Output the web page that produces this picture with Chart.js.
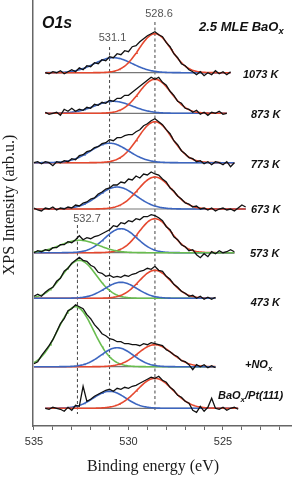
<!DOCTYPE html>
<html>
<head>
<meta charset="utf-8">
<script src="https://cdn.jsdelivr.net/npm/chart.js@4.4.0/dist/chart.umd.min.js"></script>
<style>
  html, body { margin: 0; padding: 0; background: #fff; overflow: hidden; }
  canvas { display: block; }
</style>
</head>
<body>
<canvas id="xps" width="292" height="477"></canvas>
<script>
// ---- data ----
const STEP = 0.2; // eV between measured points, towards lower binding energy

const scanNames = ['1073 K', '873 K', '773 K', '673 K', '573 K', '473 K', '+NO_x', 'BaO_x/Pt(111)'];
// baseline of every stacked spectrum (arb.u.)
const offsets = [353.3, 312.7, 263.3, 217, 173.3, 127.7, 59.3, 17.7];
// first binding energy of every scan (eV)
const scanStart = [534.4, 534.4, 535.0, 535.0, 535.0, 535.0, 535.0, 534.4];

const scan1073 = [0,-1,1,0,2,-1,1,3,1,5,3,7,6,10,9,13,12,16,15,19,18,22,21,26,27,31,34,37,39,41,38,36,30,26,19,15,9,7,3,1,-2,1,-3,0,-2,2,-1,1,-2,1];
const scan873 = [1,-1,0,1,-2,4,2,5,2,4,3,6,5,9,8,11,10,13,12,15,15,18,18,21,24,27,30,33,36,34,36,31,28,22,18,12,10,5,4,1,3,-1,1,-2,1,0,2,-1,0];
const scan773 = [0,1,-1,1,0,-3,1,0,2,1,4,3,7,8,11,12,15,16,19,20,23,22,25,25,27,28,28,31,33,37,39,42,44,41,38,33,29,22,18,12,9,5,4,1,2,-1,1,-2,1,0,-2,1,-4,0];
const scan673 = [1,-1,-2,1,0,2,-1,1,0,2,1,4,3,6,7,10,11,15,17,20,21,24,24,27,26,30,29,33,31,35,34,37,35,34,30,27,21,18,13,10,6,5,2,3,0,1,-1,1,-2,0,1,-1,0,-2,1,4,2];
const scan573 = [0,2,1,3,2,5,5,8,8,11,10,13,17,13,15,14,16,17,19,21,23,27,26,30,29,32,31,34,33,36,36,38,37,35,32,26,23,16,13,8,6,2,3,-2,-5,-1,-4,1,-1,2,0,1,3,1];
const scan473 = [2,4,2,6,9,11,17,20,27,30,35,38,41,38,37,33,31,26,25,22,23,21,22,21,23,22,24,25,27,28,30,29,32,28,27,22,19,14,11,7,5,2,3,0,2,-1,1,-1,1];
const scanNOx = [3,5,11,16,21,27,35,43,48,56,58,62,60,58,52,48,42,38,33,31,28,27,25,25,23,23,22,22,21,23,22,24,23,22,21,17,15,12,10,6,5,2,-3,2,0,2,-1,1,-1];
const scanPt = [0,-1,1,0,-1,-3,1,-2,3,2,22,7,9,12,14,16,18,19,17,20,19,21,20,22,23,25,27,29,31,30,32,28,26,21,18,13,11,7,5,-2,-4,2,-3,1,10,0,-1,1,-2,0,1,-1];
const scans = [scan1073, scan873, scan773, scan673, scan573, scan473, scanNOx, scanPt];

// fitted components: [centre eV, height, sigma eV]
const fit528 = [[528.6,39,0.85],[528.6,34,0.85],[528.6,41,0.9],[528.6,32,0.9],[528.6,34,0.85],[528.6,28,0.85],[528.6,22,0.9],[528.6,30,0.95]];
const fit531 = [[530.8,15,1.0],[530.8,12,1.0],[531.0,19.5,1.0],[530.6,22,1.0],[530.4,24,0.85],[530.4,16,0.85],[530.6,19,0.85],[531.0,17,0.85]];
const fit533 = [null,null,null,null,[532.6,12.5,1.0],[532.6,38,0.9],[532.8,60,0.95],null];

// reference peak positions
const refEnergy = [528.6, 531.0, 532.7];
const refLabel = ['528.6', '531.1', '532.7'];

// ---- styling ----
const compColor = { r: '#e5482f', b: '#3d66c0', g: '#69bd4f' };
const compFit = { r: fit528, b: fit531, g: fit533 };
// bottom -> top drawing order of the components in each spectrum
const layers = [['b','r'],['b','r'],['r','b'],['b','r'],['r','b','g'],['g','r','b'],['g','r','b'],['b','r']];
const refSpan = [[404, 14], [379, 38], [201, 12]];
const refTextPos = [[159, 17.3], [112.5, 41], [87, 222.3]];
const namePos = [[243, 78.3], [251, 118.3], [250.7, 168.3], [251, 213.3], [250, 257.3], [250.7, 306], [245, 368.3], [218, 399]];

function gauss(p, e) {
  return p[1] * Math.exp(-((e - p[0]) ** 2) / (2 * p[2] * p[2]));
}

const datasets = [];
scans.forEach((scan, i) => {
  const e0 = scanStart[i];
  const e1 = e0 - (scan.length - 1) * STEP;
  datasets.push({
    data: scan.map((v, k) => ({ x: e0 - k * STEP, y: offsets[i] + v })),
    borderColor: '#111', borderWidth: 1.3, order: 0
  });
  const n = layers[i].length;
  layers[i].forEach((c, j) => {
    const p = compFit[c][i];
    const pts = [];
    for (let e = e0; e >= e1 - 1e-6; e -= 0.05) pts.push({ x: e, y: offsets[i] + gauss(p, e) });
    datasets.push({ data: pts, borderColor: compColor[c], borderWidth: 1.6, order: 1 + (n - 1 - j) });
  });
  datasets.push({
    data: [{ x: e0, y: offsets[i] }, { x: e1, y: offsets[i] }],
    borderColor: '#777', borderWidth: 1.2, order: 5
  });
});
refEnergy.forEach((e, i) => {
  datasets.push({
    data: [{ x: e, y: refSpan[i][0] }, { x: e, y: refSpan[i][1] }],
    borderColor: '#444', borderWidth: 1, borderDash: [3, 2.5], order: 6
  });
});
datasets.forEach(d => { d.showLine = true; d.pointRadius = 0; d.fill = false; });

function drawRich(ctx, str, x, y, size, style, color) {
  const parts = str.split(/_(.)/);
  ctx.fillStyle = color;
  ctx.textBaseline = 'alphabetic';
  ctx.textAlign = 'left';
  parts.forEach((t, k) => {
    const sub = k % 2 === 1;
    const s = sub ? size * 0.72 : size;
    ctx.font = style + ' ' + s + 'px "Liberation Sans", Arial, sans-serif';
    ctx.fillText(t, x, sub ? y + size * 0.28 : y);
    x += ctx.measureText(t).width;
  });
}

const figText = {
  id: 'figText',
  afterDraw(chart) {
    const ctx = chart.ctx;
    ctx.save();
    drawRich(ctx, 'O1s', 42, 28.3, 16, 'italic bold', '#111');
    drawRich(ctx, '2.5 MLE BaO_x', 199, 30.7, 13, 'italic bold', '#111');
    scanNames.forEach((t, i) => drawRich(ctx, t, namePos[i][0], namePos[i][1], 11, 'italic bold', '#111'));
    ctx.font = '11px "Liberation Sans", Arial, sans-serif';
    ctx.fillStyle = '#555';
    ctx.textAlign = 'center';
    refLabel.forEach((t, i) => ctx.fillText(t, refTextPos[i][0], refTextPos[i][1]));
    ctx.fillStyle = '#1a1a1a';
    ctx.font = '16px "Liberation Serif", "Times New Roman", serif';
    ctx.fillText('Binding energy (eV)', 153, 471);
    ctx.translate(13.5, 205);
    ctx.rotate(-Math.PI / 2);
    ctx.fillText('XPS Intensity (arb.u.)', 0, 0);
    ctx.restore();
  }
};

new Chart(document.getElementById('xps'), {
  type: 'scatter',
  data: { datasets },
  options: {
    responsive: false,
    animation: false,
    events: [],
    layout: { padding: 0 },
    plugins: { legend: { display: false }, tooltip: { enabled: false } },
    scales: {
      x: {
        type: 'linear', reverse: true, min: 521.35, max: 535.05,
        afterFit: s => { s.height = 51; },
        ticks: {
          stepSize: 1, includeBounds: false, autoSkip: false, maxRotation: 0, padding: 5,
          color: '#333', font: { family: '"Liberation Sans", Arial, sans-serif', size: 11 },
          callback: v => (Math.abs(v % 5) < 1e-6 ? String(v) : '')
        },
        grid: { drawOnChartArea: false, tickLength: 4, color: '#666' },
        border: { color: '#666', width: 1.5 }
      },
      y: {
        type: 'linear', min: 0, max: 426,
        afterFit: s => { s.width = 33; },
        ticks: { display: false },
        grid: { display: false },
        border: { color: '#666', width: 1.5 }
      }
    }
  },
  plugins: [figText]
});
</script>
</body>
</html>
